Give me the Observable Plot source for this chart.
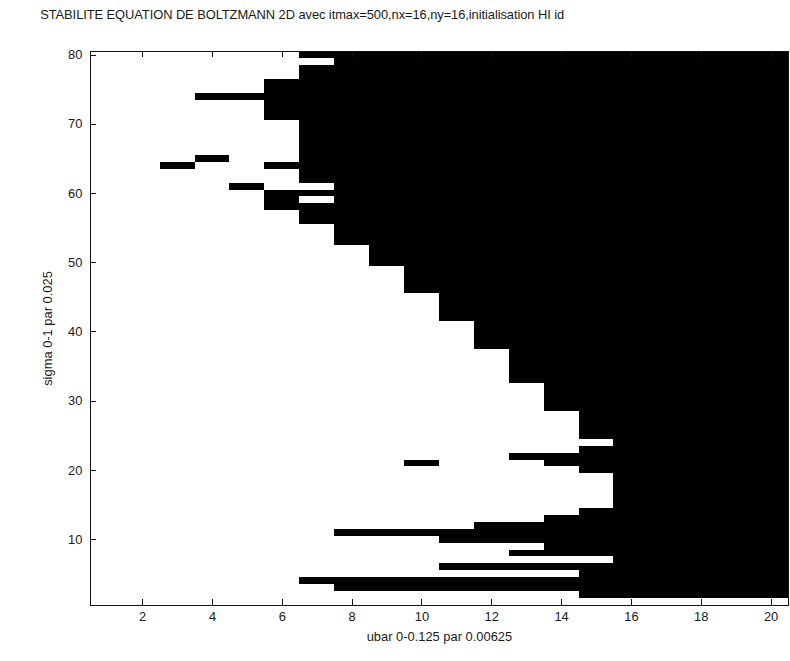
<!DOCTYPE html>
<html>
<head>
<meta charset="utf-8">
<script src="https://cdn.jsdelivr.net/npm/d3@7"></script>
<script src="https://cdn.jsdelivr.net/npm/@observablehq/plot@0.6"></script>
<style>
  html, body { margin: 0; padding: 0; background: #fff; overflow: hidden; }
  #chart svg { display: block; }
</style>
</head>
<body>
<div id="chart"></div>
<script>
// ---- Text ----
const titleText = "STABILITE EQUATION DE BOLTZMANN 2D avec itmax=500,nx=16,ny=16,initialisation HI id";
const xLabelText = "ubar 0-0.125 par 0.00625";
const yLabelText = "sigma 0-1 par 0.025";

// ---- Tick values ----
const xTickValues = [2, 4, 6, 8, 10, 12, 14, 16, 18, 20];
const yTickValues = [10, 20, 30, 40, 50, 60, 70, 80];

// ---- Grid: row index (sigma step) of each line below, top to bottom ----
const rowIndex = [
  80, 79, 78, 77, 76, 75, 74, 73, 72, 71,
  70, 69, 68, 67, 66, 65, 64, 63, 62, 61,
  60, 59, 58, 57, 56, 55, 54, 53, 52, 51,
  50, 49, 48, 47, 46, 45, 44, 43, 42, 41,
  40, 39, 38, 37, 36, 35, 34, 33, 32, 31,
  30, 29, 28, 27, 26, 25, 24, 23, 22, 21,
  20, 19, 18, 17, 16, 15, 14, 13, 12, 11,
  10, 9, 8, 7, 6, 5, 4, 3, 2, 1
];

// ---- Stability map: columns ubar step 1..20; '#' = unstable (black), '.' = stable (white) ----
const stabilityRows = [
  "......##############", // 80
  ".......#############", // 79
  "......##############", // 78
  "......##############", // 77
  ".....###############", // 76
  ".....###############", // 75
  "...#################", // 74
  ".....###############", // 73
  ".....###############", // 72
  ".....###############", // 71
  "......##############", // 70
  "......##############", // 69
  "......##############", // 68
  "......##############", // 67
  "......##############", // 66
  "...#..##############", // 65
  "..#..###############", // 64
  "......##############", // 63
  "......##############", // 62
  "....#..#############", // 61
  ".....###############", // 60
  ".....#.#############", // 59
  ".....###############", // 58
  "......##############", // 57
  "......##############", // 56
  ".......#############", // 55
  ".......#############", // 54
  ".......#############", // 53
  "........############", // 52
  "........############", // 51
  "........############", // 50
  ".........###########", // 49
  ".........###########", // 48
  ".........###########", // 47
  ".........###########", // 46
  "..........##########", // 45
  "..........##########", // 44
  "..........##########", // 43
  "..........##########", // 42
  "...........#########", // 41
  "...........#########", // 40
  "...........#########", // 39
  "...........#########", // 38
  "............########", // 37
  "............########", // 36
  "............########", // 35
  "............########", // 34
  "............########", // 33
  ".............#######", // 32
  ".............#######", // 31
  ".............#######", // 30
  ".............#######", // 29
  "..............######", // 28
  "..............######", // 27
  "..............######", // 26
  "..............######", // 25
  "...............#####", // 24
  "..............######", // 23
  "............########", // 22
  ".........#...#######", // 21
  "..............######", // 20
  "...............#####", // 19
  "...............#####", // 18
  "...............#####", // 17
  "...............#####", // 16
  "...............#####", // 15
  "..............######", // 14
  ".............#######", // 13
  "...........#########", // 12
  ".......#############", // 11
  "..........##########", // 10
  ".............#######", // 9
  "............########", // 8
  "...............#####", // 7
  "..........##########", // 6
  "..............######", // 5
  "......##############", // 4
  ".......#############", // 3
  "..............######", // 2
  "...................."  // 1
];

// ---- Build runs of black cells (table for the rect mark) ----
const runs = [];
stabilityRows.forEach((s, i) => {
  if (s.length !== 20) console.warn("row", rowIndex[i], "has length", s.length);
  const y = rowIndex[i];
  let c = 0;
  while (c < s.length) {
    if (s[c] === "#") {
      let e = c;
      while (e + 1 < s.length && s[e + 1] === "#") e++;
      runs.push({ y, c1: c + 1, c2: e + 1 });
      c = e + 1;
    } else c++;
  }
});

// ---- Layout ----
const W = 796, H = 661;
const mL = 90.5, mR = 2, mT = 51.5, mB = 51.5;
const innerW = W - mL - mR, innerH = H - mT - mB;
const tickLen = 6;
const axisColor = "#111";
const textColor = "#1a1a1a";
const font = "'Liberation Sans', Arial, Helvetica, sans-serif";

const chart = Plot.plot({
  width: W,
  height: H,
  marginLeft: mL,
  marginRight: mR,
  marginTop: mT,
  marginBottom: mB,
  style: { fontFamily: font, fontSize: "13px", background: "#fff", color: "#000", overflow: "visible" },
  x: { domain: [0.5, 20.5], label: null },
  y: { domain: [0.5, 80.5], label: null },
  marks: [
    Plot.rect(runs, {
      x1: d => d.c1 - 0.5, x2: d => d.c2 + 0.5,
      y1: d => d.y - 0.5, y2: d => d.y + 0.5,
      fill: "#000", shapeRendering: "crispEdges"
    }),
    // inward ticks (MATLAB style): bottom, top, left
    Plot.tickX(xTickValues, { x: d => d, insetTop: innerH - tickLen, stroke: axisColor, shapeRendering: "crispEdges" }),
    Plot.tickX(xTickValues, { x: d => d, insetBottom: innerH - tickLen, stroke: axisColor, shapeRendering: "crispEdges" }),
    Plot.tickY(yTickValues, { y: d => d, insetRight: innerW - tickLen, stroke: axisColor, shapeRendering: "crispEdges" }),
    Plot.frame({ stroke: axisColor, shapeRendering: "crispEdges" }),
    Plot.axisX(xTickValues, { anchor: "bottom", tickSize: 0, tickPadding: 6, label: null, fontSize: 13, fill: textColor }),
    Plot.axisY(yTickValues, { anchor: "left", tickSize: 0, tickPadding: 8, label: null, fontSize: 13, fill: textColor }),
    Plot.text([xLabelText], {
      frameAnchor: "bottom", dy: 32, lineAnchor: "middle", fontSize: 13, fill: textColor
    }),
    Plot.text([yLabelText], {
      frameAnchor: "left", rotate: -90, dx: 48 - mL, textAnchor: "middle", lineAnchor: "middle", fontSize: 13, fill: textColor
    }),
    Plot.text([titleText], {
      frameAnchor: "top-left", dx: 40 - mL, dy: 14 - mT, textAnchor: "start", lineAnchor: "middle", fontSize: 13, fill: textColor
    })
  ]
});

// Stretch the title slightly, like the reference's bitmap font
d3.select(chart).selectAll("text").each(function () {
  if (this.textContent === titleText) {
    this.setAttribute("textLength", 528);
    this.setAttribute("lengthAdjust", "spacing");
  }
});

document.getElementById("chart").appendChild(chart);
</script>
</body>
</html>
